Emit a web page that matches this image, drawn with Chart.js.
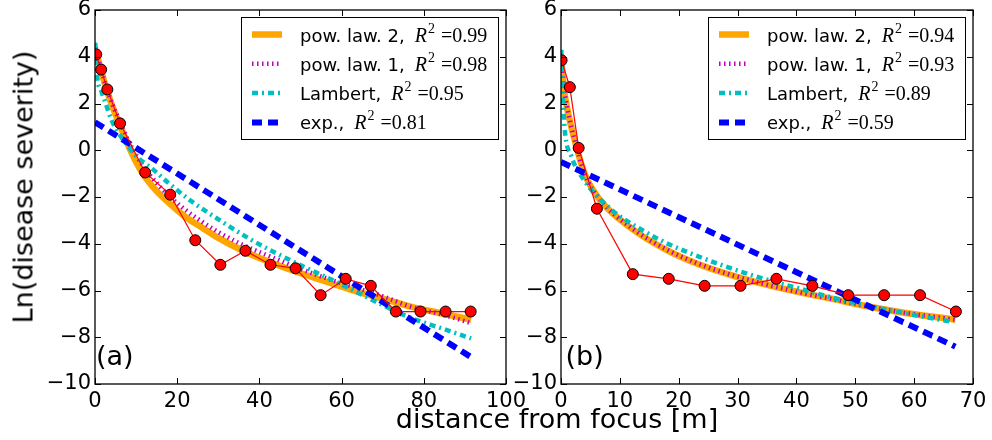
<!DOCTYPE html>
<html>
<head>
<meta charset="utf-8">
<script src="https://cdn.jsdelivr.net/npm/chart.js@4.4.1/dist/chart.umd.min.js"></script>
<style>
  body { margin: 0; background: #fff; }
  #wrap { position: relative; width: 992px; height: 440px; overflow: hidden; font-family: "DejaVu Sans", sans-serif; }
  #boxA { position: absolute; left: 0; top: 0; width: 530px; height: 440px; }
  #boxB { position: absolute; left: 500px; top: 0; width: 492px; height: 440px; }
  .title { position: absolute; white-space: nowrap; font-size: 27px; line-height: 27px; color: #000; }
  #xTitle { left: 557px; top: 405px; transform: translateX(-50%); }
  #yTitle { left: 23px; top: 187px; transform: translate(-50%, -50%) rotate(-90deg); }
</style>
</head>
<body>
<div id="wrap">
  <div id="boxA"><canvas id="chartA" width="530" height="440"></canvas></div>
  <div id="boxB"><canvas id="chartB" width="492" height="440"></canvas></div>
  <div class="title" id="xTitle">distance from focus [m]</div>
  <div class="title" id="yTitle">Ln(disease severity)</div>
</div>
<script>
// ─── Data ──────────────────────────────────────────────────

// panel (a): observed points
const distA = [0.3, 1.5, 3.0, 6.1, 12.2, 18.3, 24.4, 30.5, 36.6, 42.7, 48.8, 54.9, 61.0, 67.1, 73.2, 79.2, 85.3, 91.4];
const severityA = [4.1, 3.45, 2.6, 1.15, -0.95, -1.9, -3.85, -4.9, -4.3, -4.9, -5.05, -6.2, -5.5, -5.8, -6.9, -6.9, -6.9, -6.9];

// panel (a): fitted curves
const powX_A = [0.2, 0.8, 1.5, 3, 4.5, 6, 8, 10, 12, 15, 18, 22, 26, 30, 36, 42, 49, 55, 62, 70, 77, 85, 91.5];
const pow2_A = [4.3, 3.85, 3.4, 2.5, 1.75, 1.1, 0.25, -0.5, -1.1, -1.75, -2.25, -2.85, -3.3, -3.75, -4.3, -4.75, -5.2, -5.55, -5.95, -6.35, -6.7, -7.0, -7.25];
const pow1_A = [4.4, 3.9, 3.45, 2.55, 1.85, 1.25, 0.45, -0.2, -0.75, -1.4, -1.95, -2.55, -3.05, -3.5, -4.05, -4.5, -5.0, -5.4, -5.8, -6.25, -6.7, -7.05, -7.4];
const lambX_A = [0.05, 0.5, 1.5, 2.5, 4, 5.5, 7.5, 10, 14, 18, 23.6, 30.4, 37.7, 43.5, 49.8, 57.1, 61.2, 68, 76.5, 84, 91.5];
const lamb_A = [4.6, 3.2, 2.55, 2.05, 1.3, 0.8, 0.3, -0.25, -0.8, -1.42, -2.2, -3.0, -3.8, -4.35, -4.9, -5.5, -5.85, -6.45, -7.15, -7.6, -8.05];
const expX_A = [0, 91.5];
const exp_A = [1.2, -8.85];

// panel (b): observed points
const distB = [0.1, 1.5, 3.0, 6.1, 12.2, 18.3, 24.4, 30.5, 36.6, 42.7, 48.8, 54.9, 61.0, 67.1];
const severityB = [3.85, 2.7, 0.1, -2.5, -5.3, -5.5, -5.8, -5.8, -5.5, -5.8, -6.2, -6.2, -6.2, -6.9];

// panel (b): fitted curves
const powX_B = [0.1, 0.5, 1.2, 2.3, 4.0, 6.6, 12.3, 17.9, 23.6, 29.3, 34.9, 40.6, 46.2, 50.5, 57, 67];
const pow2_B = [3.7, 2.6, 1.6, 0.45, -1.0, -2.12, -3.4, -4.26, -4.9, -5.37, -5.75, -6.08, -6.36, -6.6, -6.9, -7.25];
const pow1_B = [3.8, 2.7, 1.65, 0.45, -1.0, -2.1, -3.38, -4.24, -4.88, -5.36, -5.75, -6.08, -6.37, -6.6, -6.9, -7.25];
const lambX_B = [0.05, 0.3, 0.6, 1.75, 3.7, 8.6, 13.7, 17.9, 21.9, 27.6, 30.4, 36, 41.7, 47.4, 57, 66.6];
const lamb_B = [4.3, 2.5, 1.0, -0.25, -1.2, -2.55, -3.4, -3.97, -4.4, -4.94, -5.18, -5.61, -6.0, -6.39, -6.9, -7.35];
const expX_B = [0, 67];
const exp_B = [-0.5, -8.4];

// legend
const fitNames = ['pow. law. 2', 'pow. law. 1', 'Lambert', 'exp.'];
const r2A = ['0.99', '0.98', '0.95', '0.81'];
const r2B = ['0.94', '0.93', '0.89', '0.59'];

// ticks
const yTicks = [-10, -8, -6, -4, -2, 0, 2, 4, 6];

// ─── Styles ────────────────────────────────────────────────

const fitStyles = [
  { color: '#FFA500', width: 6.5, dash: [] },          // pow. law. 2
  { color: '#BF00BF', width: 4.5, dash: [1.5, 3.5] },  // pow. law. 1
  { color: '#00BFBF', width: 4.5, dash: [6, 4, 2, 4] },// Lambert
  { color: '#0000FF', width: 6, dash: [10, 6] }        // exp.
];

Chart.defaults.font.family = '"DejaVu Sans", sans-serif';
Chart.defaults.color = '#000';

function pts(xs, ys) {
  return xs.map((x, i) => ({ x, y: ys[i] }));
}

function minus(v) {
  return v < 0 ? '\u2212' + Math.abs(v) : String(v);
}

// inward ticks on all four sides + frame
const frameTicks = {
  id: 'frameTicks',
  afterDatasetsDraw(chart) {
    const { ctx, chartArea: a, scales } = chart;
    ctx.save();
    ctx.strokeStyle = '#000';
    ctx.lineWidth = 1;
    ctx.setLineDash([]);
    ctx.beginPath();
    scales.x.ticks.forEach(t => {
      const px = Math.round(scales.x.getPixelForValue(t.value)) + 0.5;
      ctx.moveTo(px, a.bottom); ctx.lineTo(px, a.bottom - 6);
      ctx.moveTo(px, a.top); ctx.lineTo(px, a.top + 6);
    });
    scales.y.ticks.forEach(t => {
      const py = Math.round(scales.y.getPixelForValue(t.value)) + 0.5;
      ctx.moveTo(a.left, py); ctx.lineTo(a.left + 6, py);
      ctx.moveTo(a.right, py); ctx.lineTo(a.right - 6, py);
    });
    ctx.stroke();
    ctx.lineWidth = 1.3;
    ctx.strokeRect(a.left, a.top, a.right - a.left, a.bottom - a.top);
    ctx.restore();
  }
};

// legend box and panel tag
const fitLegend = {
  id: 'fitLegend',
  afterDraw(chart, args, opts) {
    const { ctx, chartArea: a } = chart;
    const w = 257, h = 122;
    const x0 = Math.round(a.right - 8 - w), y0 = Math.round(a.top + 7);
    ctx.save();
    ctx.fillStyle = '#fff';
    ctx.fillRect(x0, y0, w, h);
    ctx.strokeStyle = '#000';
    ctx.lineWidth = 1;
    ctx.strokeRect(x0 + 0.5, y0 + 0.5, w, h);
    fitNames.forEach((name, i) => {
      const ly = y0 + 17.5 + i * 29.3;
      const st = fitStyles[i];
      ctx.beginPath();
      ctx.setLineDash(st.dash);
      ctx.lineWidth = st.width;
      ctx.strokeStyle = st.color;
      ctx.moveTo(x0 + 11, ly);
      ctx.lineTo(x0 + 41, ly);
      ctx.stroke();
      ctx.setLineDash([]);

      const base = ly + 7;
      let tx = x0 + 59;
      ctx.fillStyle = '#000';
      ctx.textBaseline = 'alphabetic';
      ctx.textAlign = 'left';
      ctx.font = '18px "DejaVu Sans"';
      ctx.fillText(name + ',', tx, base);
      tx += ctx.measureText(name + ',').width + 10;
      ctx.font = 'italic 20px "Liberation Serif"';
      ctx.fillText('R', tx, base);
      tx += ctx.measureText('R').width + 1;
      ctx.font = '14px "Liberation Serif"';
      ctx.fillText('2', tx, base - 9);
      tx += ctx.measureText('2').width + 6;
      ctx.font = '20px "Liberation Serif"';
      ctx.fillText('=' + opts.r2[i], tx, base);
    });
    ctx.font = '27px "DejaVu Sans"';
    ctx.fillStyle = '#000';
    ctx.textBaseline = 'alphabetic';
    ctx.fillText(opts.tag, a.left + opts.tagDx, 365);
    ctx.restore();
  }
};

function makeChart(id, p) {
  const datasets = [
    {
      label: 'data',
      data: pts(p.dist, p.sev),
      showLine: true,
      borderColor: '#FF0000',
      borderWidth: 1.2,
      pointRadius: 5.5,
      pointBackgroundColor: '#FF0000',
      pointBorderColor: '#000',
      pointBorderWidth: 1,
      clip: 0
    }
  ];
  // back-to-front: pow2, pow1, Lambert, exp -> pushed in reverse so exp sits above
  const fits = [pts(p.powX, p.pow2), pts(p.powX, p.pow1), pts(p.lambX, p.lamb), pts(p.expX, p.exp)];
  for (let i = 3; i >= 0; i--) {
    datasets.push({
      label: fitNames[i],
      data: fits[i],
      showLine: true,
      borderColor: fitStyles[i].color,
      borderWidth: fitStyles[i].width,
      borderDash: fitStyles[i].dash,
      borderCapStyle: 'butt',
      pointRadius: 0,
      cubicInterpolationMode: 'monotone',
      clip: 0
    });
  }

  return new Chart(document.getElementById(id), {
    type: 'scatter',
    data: { datasets },
    options: {
      responsive: false,
      animation: false,
      layout: { padding: { left: 0, top: 10, right: p.padRight, bottom: 0 } },
      plugins: {
        legend: { display: false },
        tooltip: { enabled: false },
        fitLegend: { r2: p.r2, tag: p.tag, tagDx: p.tagDx }
      },
      scales: {
        x: {
          type: 'linear',
          min: 0,
          max: p.xMax,
          grid: { display: false, drawTicks: false },
          border: { display: false },
          ticks: { stepSize: p.xStep, padding: 5, font: { size: 21 }, color: '#000', maxRotation: 0 },
          afterFit(s) { s.height = 56; s.paddingLeft = 0; s.paddingRight = 0; }
        },
        y: {
          min: -10,
          max: 6,
          grid: { display: false, drawTicks: false },
          border: { display: false },
          afterBuildTicks(s) { s.ticks = yTicks.map(v => ({ value: v })); },
          ticks: { padding: 4, font: { size: 21 }, color: '#000', callback: v => minus(v) },
          afterFit(s) { s.width = p.yWidth; s.paddingTop = 0; s.paddingBottom = 0; }
        }
      }
    },
    plugins: [frameTicks, fitLegend]
  });
}

makeChart('chartA', {
  dist: distA, sev: severityA,
  powX: powX_A, pow2: pow2_A, pow1: pow1_A,
  lambX: lambX_A, lamb: lamb_A, expX: expX_A, exp: exp_A,
  r2: r2A, tag: '(a)', tagDx: 1,
  xMax: 100, xStep: 20, yWidth: 95, padRight: 24
});

makeChart('chartB', {
  dist: distB, sev: severityB,
  powX: powX_B, pow2: pow2_B, pow1: pow1_B,
  lambX: lambX_B, lamb: lamb_B, expX: expX_B, exp: exp_B,
  r2: r2B, tag: '(b)', tagDx: 4.5,
  xMax: 70, xStep: 10, yWidth: 61, padRight: 19
});
</script>
</body>
</html>
